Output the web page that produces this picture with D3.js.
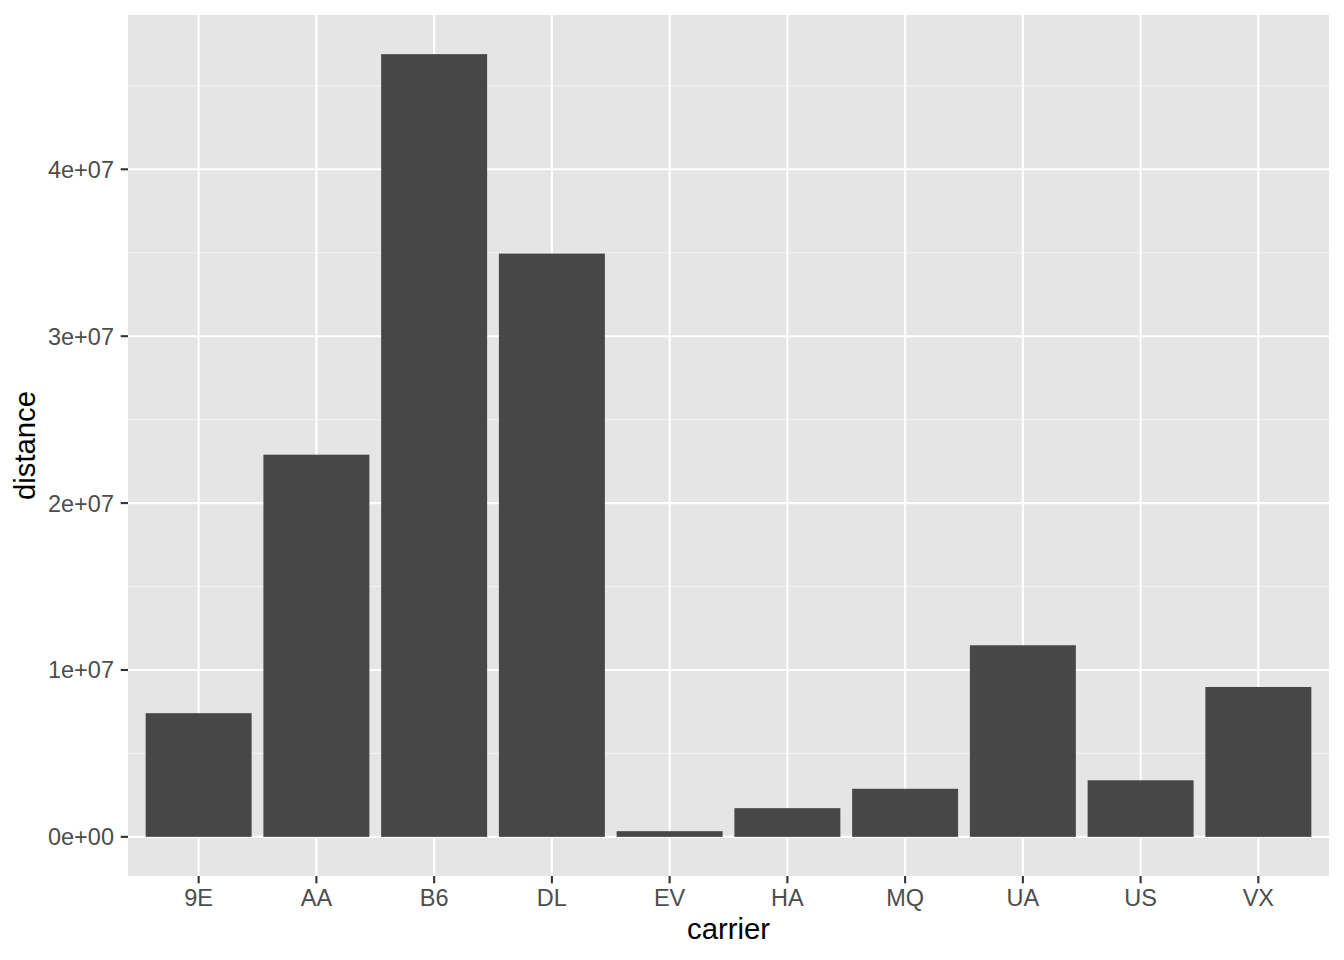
<!DOCTYPE html>
<html><head><meta charset="utf-8">
<script src="https://cdn.jsdelivr.net/npm/d3@7"></script>
<style>body{margin:0;background:#fff;} text{font-family:"Liberation Sans",Arial,sans-serif;}</style>
</head><body>
<svg id="chart" width="1344" height="960"></svg>
<script>
const carriers = ["9E","AA","B6","DL","EV","HA","MQ","UA","US","VX"];
const distance = [7410000, 22900000, 46900000, 34950000, 340000, 1720000, 2880000, 11480000, 3390000, 8980000];
const yTicks = [0, 1e7, 2e7, 3e7, 4e7];
const yTickLabels = ["0e+00","1e+07","2e+07","3e+07","4e+07"];
const yMinor = [0.5e7, 1.5e7, 2.5e7, 3.5e7, 4.5e7];

const svg = d3.select("#chart");
const L = 128, R = 1329, T = 15, B = 876;
const maxV = d3.max(distance);
const y = d3.scaleLinear().domain([-0.05*maxV, 1.05*maxV]).range([B, T]);
// ggplot discrete scale: 0.6 unit expansion each side, bar width 0.9 unit
const x = d3.scalePoint().domain(carriers).range([L, R]).padding(0.6);
const step = x.step();
const bw = 0.9 * step;

svg.append("rect").attr("x", L).attr("y", T).attr("width", R - L).attr("height", B - T).attr("fill", "#E5E5E5");
const g = svg.append("g");
g.selectAll(".minor").data(yMinor).join("line")
  .attr("x1", L).attr("x2", R).attr("y1", d => y(d)).attr("y2", d => y(d))
  .attr("stroke", "#F2F2F2").attr("stroke-width", 1.1);
g.selectAll(".major").data(yTicks).join("line")
  .attr("x1", L).attr("x2", R).attr("y1", d => y(d)).attr("y2", d => y(d))
  .attr("stroke", "#fff").attr("stroke-width", 2.1);
g.selectAll(".vmajor").data(carriers).join("line")
  .attr("x1", d => x(d)).attr("x2", d => x(d)).attr("y1", T).attr("y2", B)
  .attr("stroke", "#fff").attr("stroke-width", 2.1);

svg.selectAll(".bar").data(carriers).join("rect")
  .attr("x", d => x(d) - bw/2).attr("width", bw)
  .attr("y", (d,i) => y(distance[i])).attr("height", (d,i) => y(0) - y(distance[i]))
  .attr("fill", "#474747");

// y axis ticks
svg.selectAll(".yt").data(yTicks).join("line")
  .attr("x1", L - 7.3).attr("x2", L).attr("y1", d => y(d)).attr("y2", d => y(d))
  .attr("stroke", "#333").attr("stroke-width", 2.1);
svg.selectAll(".yl").data(yTicks).join("text")
  .attr("x", L - 14).attr("y", d => y(d)).attr("dy", "0.36em")
  .attr("text-anchor", "end").attr("font-size", 23.5).attr("fill", "#4D4D4D")
  .text((d,i) => yTickLabels[i]);
// x axis ticks
svg.selectAll(".xt").data(carriers).join("line")
  .attr("x1", d => x(d)).attr("x2", d => x(d)).attr("y1", B).attr("y2", B + 7.3)
  .attr("stroke", "#333").attr("stroke-width", 2.1);
svg.selectAll(".xl").data(carriers).join("text")
  .attr("x", d => x(d)).attr("y", 906)
  .attr("text-anchor", "middle").attr("font-size", 23.5).attr("fill", "#4D4D4D")
  .text(d => d);

svg.append("text").attr("x", (L + R)/2).attr("y", 939).attr("text-anchor", "middle")
  .attr("font-size", 29.3).attr("fill", "#000").text("carrier");
svg.append("text").attr("transform", `translate(35,${(T+B)/2}) rotate(-90)`).attr("text-anchor", "middle")
  .attr("font-size", 29.3).attr("fill", "#000").text("distance");
</script>
</body></html>
